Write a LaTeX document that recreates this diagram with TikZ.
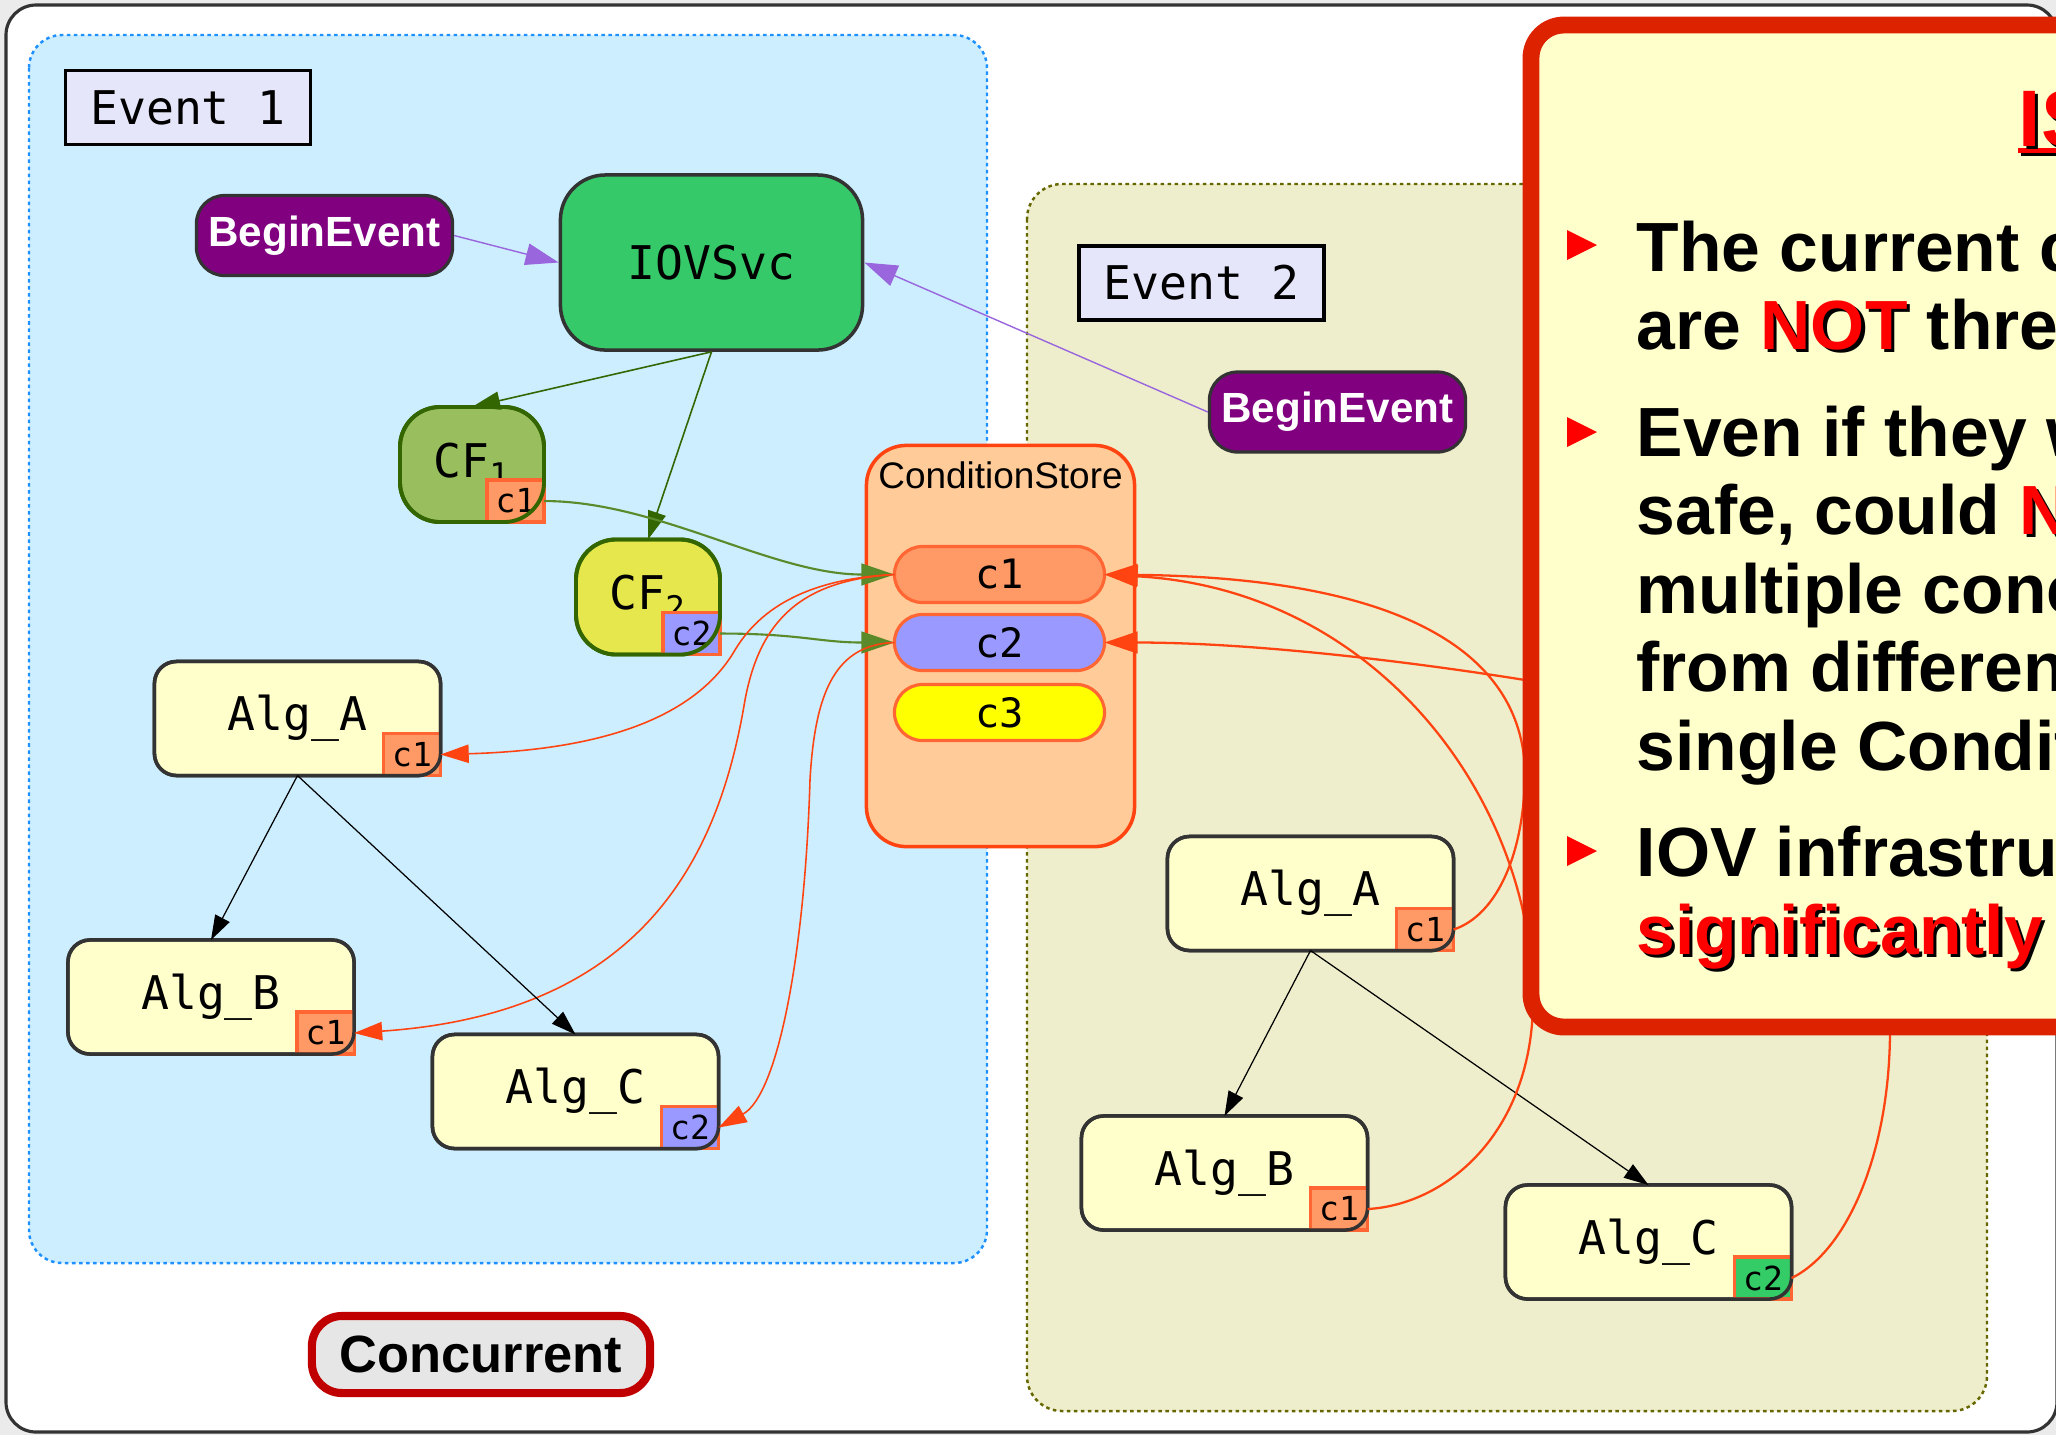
\documentclass[tikz,border=0pt]{standalone}
\usepackage{fontspec}
\setmainfont{Liberation Sans}
\newfontfamily\monofam{DejaVu Sans Mono}
\usetikzlibrary{arrows.meta}

\definecolor{pagegray}{HTML}{EBEBEB}
\definecolor{framegray}{HTML}{333333}
\definecolor{evoneback}{HTML}{CCEEFF}
\definecolor{evoneline}{HTML}{1E90FF}
\definecolor{evtwoback}{HTML}{EEEECC}
\definecolor{evtwoline}{HTML}{666600}
\definecolor{lavender}{HTML}{E6E6FA}
\definecolor{beginpurple}{HTML}{800080}
\definecolor{iovgreen}{HTML}{36C96A}
\definecolor{cfonefill}{HTML}{98BE5E}
\definecolor{cftwofill}{HTML}{E6E64D}
\definecolor{cfline}{HTML}{336600}
\definecolor{algfill}{HTML}{FFFFCC}
\definecolor{conda}{HTML}{FF9966}
\definecolor{condb}{HTML}{9999FF}
\definecolor{condc}{HTML}{FFFF00}
\definecolor{condgreen}{HTML}{33CC66}
\definecolor{badgeline}{HTML}{FF6633}
\definecolor{storefill}{HTML}{FFCC99}
\definecolor{storeline}{HTML}{FF4411}
\definecolor{linkred}{HTML}{FF4411}
\definecolor{linkgreen}{HTML}{5A8A2A}
\definecolor{linkpurple}{HTML}{9966DD}
\definecolor{calloutline}{HTML}{DD2200}
\definecolor{calloutfill}{HTML}{FFFFCC}
\definecolor{concline}{HTML}{C00000}
\definecolor{concfill}{HTML}{E6E6E6}

\newcommand\monolabel{\monofam\fontsize{13.2}{15}\selectfont}
\newcommand\badgefont{\monofam\fontsize{9.4}{11}\selectfont}
\newcommand\pillfont{\monofam\fontsize{11.5}{13}\selectfont}
\newcommand\calloutfont{\bfseries\fontsize{19.8}{23}\selectfont}
\newcommand\redshadow[1]{\makebox[0pt][l]{\hspace{0.9pt}\raisebox{-0.9pt}{\color{black}#1}}\textcolor{red}{#1}}

\tikzset{
  gvtip/.tip={Triangle[length=9.4pt,width=6.2pt]},
  midtip/.tip={Triangle[length=8pt,width=5.2pt]},
  smalltip/.tip={Triangle[length=7pt,width=4.6pt]},
  evlabel/.style={draw=black, fill=lavender, line width=1pt, minimum width=2.45cm,
    minimum height=0.74cm, inner sep=0pt, font=\monolabel},
  beginbox/.style={draw=framegray, fill=beginpurple, text=white, line width=0.9pt,
    rounded corners=0.28cm, minimum width=2.56cm, minimum height=0.80cm, inner sep=0pt,
    font=\bfseries\fontsize{12}{14}\selectfont},
  iovbox/.style={draw=framegray, fill=iovgreen, line width=1pt, rounded corners=0.45cm,
    minimum width=3.02cm, minimum height=1.75cm, inner sep=0pt, font=\monolabel},
  cfbox/.style={draw=cfline, line width=1.1pt, rounded corners=0.4cm, minimum width=1.44cm,
    minimum height=1.15cm, inner sep=0pt, outer sep=0pt, font=\monolabel},
  cfrim/.style={draw=cfline, line width=1.1pt, rounded corners=0.4cm},
  alg/.style={draw=framegray, fill=algfill, line width=1pt, rounded corners=0.22cm,
    minimum width=2.86cm, minimum height=1.14cm, inner sep=0pt, outer sep=0pt, font=\monolabel},
  algrim/.style={draw=framegray, line width=1pt, rounded corners=0.22cm},
  badge/.style={draw=badgeline, line width=0.9pt, minimum width=0.57cm, minimum height=0.42cm,
    inner sep=0pt, outer sep=0pt, anchor=south east, font=\badgefont},
  storebox/.style={draw=storeline, fill=storefill, line width=1pt, rounded corners=0.4cm,
    minimum width=2.68cm, minimum height=4.01cm, inner sep=0pt},
  pill/.style={draw=badgeline, line width=0.9pt, rounded corners=0.28cm, minimum width=2.10cm,
    minimum height=0.56cm, inner sep=0pt, outer sep=0pt, font=\pillfont},
  concbox/.style={draw=concline, fill=concfill, line width=2.3pt, rounded corners=0.3cm,
    minimum width=3.38cm, minimum height=0.77cm, inner sep=0pt,
    font=\bfseries\fontsize{14.9}{17}\selectfont},
  bullettext/.style={anchor=base west, inner sep=0pt, font=\calloutfont},
  redlink/.style={draw=linkred, line width=0.45pt},
  redlinkthick/.style={draw=linkred, line width=0.65pt},
  greenlink/.style={draw=linkgreen, line width=0.6pt},
}

\begin{document}
\begin{tikzpicture}[x=0.01cm,y=-0.01cm]
\useasboundingbox (0,0) rectangle (2056,1435);
\clip (0,0) rectangle (2056,1435);
\fill[pagegray] (0,0) rectangle (2056,1435);
\draw[framegray, line width=0.9pt, fill=white, rounded corners=0.3cm] (6,5) rectangle (2057,1432);

% event groups
\draw[evoneline, fill=evoneback, line width=0.7pt, dash pattern=on 1pt off 1pt,
  rounded corners=0.33cm] (29,35) rectangle (987,1263);
\draw[evtwoline, fill=evtwoback, line width=0.7pt, dash pattern=on 1pt off 1pt,
  rounded corners=0.35cm] (1027,184) rectangle (1987,1411);

\node[evlabel] (evOneLabel) at (188,107.5) {Event 1};
\node[evlabel] (evTwoLabel) at (1201.5,283) {Event 2};

\node[beginbox] (beginOne) at (324.5,235.5) {BeginEvent};
\node[beginbox] (beginTwo) at (1337.5,412) {BeginEvent};

\node[iovbox] (iov) at (711.5,262.5) {IOVSvc};

% condition functions
\node[cfbox, fill=cfonefill] (cfOne) at (472,464.5) {CF\textsubscript{1}};
\node[badge, fill=conda] (cfOneTag) at (cfOne.south east) {c1};
\draw[cfrim] (cfOne.south west) rectangle (cfOne.north east);

\node[cfbox, fill=cftwofill] (cfTwo) at (648,597) {CF\textsubscript{2}};
\node[badge, fill=condb] (cfTwoTag) at (cfTwo.south east) {c2};
\draw[cfrim] (cfTwo.south west) rectangle (cfTwo.north east);

% condition store
\node[storebox] (store) at (1000.5,646) {};
\node[anchor=base, inner sep=0pt, font=\fontsize{10.5}{12}\selectfont] (storeTitle) at (1000.5,488) {ConditionStore};
\node[pill, fill=conda] (pOne) at (999.5,574.5) {c1};
\node[pill, fill=condb] (pTwo) at (999.5,642.5) {c2};
\node[pill, fill=condc] (pThree) at (999.5,712.5) {c3};

% algorithms, event 1
\node[alg] (algAOne) at (297.5,718.5) {Alg\_A};
\node[badge, fill=conda] (algAOneTag) at (algAOne.south east) {c1};
\draw[algrim] (algAOne.south west) rectangle (algAOne.north east);

\node[alg] (algBOne) at (211,997) {Alg\_B};
\node[badge, fill=conda] (algBOneTag) at (algBOne.south east) {c1};
\draw[algrim] (algBOne.south west) rectangle (algBOne.north east);

\node[alg] (algCOne) at (575.5,1091.5) {Alg\_C};
\node[badge, fill=condb] (algCOneTag) at (algCOne.south east) {c2};
\draw[algrim] (algCOne.south west) rectangle (algCOne.north east);

% algorithms, event 2
\node[alg] (algATwo) at (1310.5,893.5) {Alg\_A};
\node[badge, fill=conda] (algATwoTag) at (algATwo.south east) {c1};
\draw[algrim] (algATwo.south west) rectangle (algATwo.north east);

\node[alg] (algBTwo) at (1224.5,1173) {Alg\_B};
\node[badge, fill=conda] (algBTwoTag) at (algBTwo.south east) {c1};
\draw[algrim] (algBTwo.south west) rectangle (algBTwo.north east);

\node[alg] (algCTwo) at (1648.5,1242) {Alg\_C};
\node[badge, fill=condgreen] (algCTwoTag) at (algCTwo.south east) {c2};
\draw[algrim] (algCTwo.south west) rectangle (algCTwo.north east);

\node[concbox] (conc) at (481,1354.5) {Concurrent};

% connectors
\draw[linkpurple, line width=0.4pt, -{gvtip}] (beginOne.east) -- (iov.west);
\draw[linkpurple, line width=0.4pt, -{gvtip}] (beginTwo.west) -- (iov.east);
\draw[cfline, line width=0.45pt, -{midtip}] (iov.south) -- (cfOne.north);
\draw[cfline, line width=0.45pt, -{midtip}] (iov.south) -- (cfTwo.north);

\draw[greenlink, -{gvtip}] (cfOneTag.east) .. controls +(114,0) and +(-123,0) .. (pOne.west);
\draw[greenlink, -{gvtip}] (cfTwoTag.east) .. controls +(80,0) and +(-75,0) .. (pTwo.west);

\draw[redlink, -{midtip}] (pOne.west) .. controls +(-73,3.5) and +(30,-50) .. (735,650)
  .. controls +(-35,60) and +(178,-5) .. (algAOneTag.east);
\draw[redlink, -{midtip}] (pOne.west) .. controls +(-93,5.5) and +(15,-80) .. (745,700)
  .. controls +(-25,150) and +(295,-20) .. (algBOneTag.east);
\draw[redlink, -{midtip}] (pTwo.west) .. controls +(-58,2) and +(5,-90) .. (810,780)
  .. controls +(-5,170) and +(60,-33) .. (algCOneTag.east);

\draw[black, line width=0.35pt, -{smalltip}] (algAOne.south) -- (algBOne.north);
\draw[black, line width=0.35pt, -{smalltip}] (algAOne.south) -- (algCOne.north);
\draw[black, line width=0.35pt, -{smalltip}] (algATwo.south) -- (algBTwo.north);
\draw[black, line width=0.35pt, -{smalltip}] (algATwo.south) -- (algCTwo.north);

\draw[redlinkthick, -{gvtip}] (algATwoTag.east) .. controls +(45,-15) and +(0,80) .. (1525,770)
  .. controls +(-5,-130) and +(273,3) .. (pOne.east);
\draw[redlinkthick, -{gvtip}] (algBTwoTag.east) .. controls +(81,-4.5) and +(0,130) .. (1533,1000)
  .. controls +(0,-200) and +(273,15) .. (pOne.east);
\draw[redlinkthick, -{gvtip}] (algCTwoTag.east) .. controls +(57,-28) and +(0,120) .. (1890,1030)
  .. controls +(0,-180) and +(175,20) .. (1525,680)
  .. controls +(-125,-20) and +(143,0) .. (pTwo.east);

% callout panel
\draw[calloutline, fill=calloutfill, line width=4.8pt, rounded corners=0.33cm] (1531,25) rectangle (2250,1027);
\fill[black] (2021,151) rectangle (2080,156);
\fill[red] (2018,148) rectangle (2080,153);
\node[anchor=base west, inner sep=0pt, font=\bfseries\fontsize{22.8}{26}\selectfont] (calloutTitle) at (2018,146) {\redshadow{IS}};

\fill[red] (1567,230) -- (1567,260) -- (1597,245) -- cycle;
\node[bullettext] (lineOne) at (1636,271) {The current c};
\node[bullettext] (lineTwo) at (1636,349.5) {are \redshadow{NOT} thre};
\fill[red] (1567,417) -- (1567,447) -- (1597,432) -- cycle;
\node[bullettext] (lineThree) at (1636,456) {Even if they w};
\node[bullettext] (lineFour) at (1636,534.5) {safe, could \redshadow{N}};
\node[bullettext] (lineFive) at (1636,613) {multiple conc};
\node[bullettext] (lineSix) at (1636,691.5) {from differen};
\node[bullettext] (lineSeven) at (1636,770) {single Condit};
\fill[red] (1567,836) -- (1567,866) -- (1597,851) -- cycle;
\node[bullettext] (lineEight) at (1636,876) {IOV infrastru};
\node[bullettext] (lineNine) at (1636,954.5) {\redshadow{significantly}};
\end{tikzpicture}
\end{document}
